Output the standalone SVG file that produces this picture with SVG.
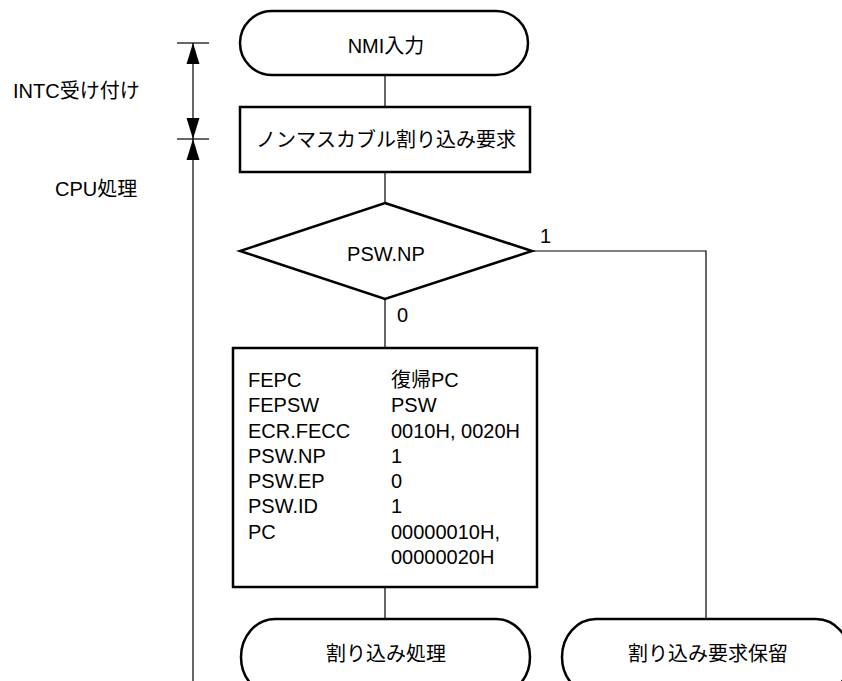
<svg xmlns="http://www.w3.org/2000/svg" width="842" height="681" viewBox="0 0 842 681">
<style>
.t{font-family:"Liberation Sans","Noto Sans CJK JP",sans-serif;font-size:20px;fill:#000}
.m{text-anchor:middle}
.box{fill:#fff;stroke:#000;stroke-width:2.5}
.ln{fill:none;stroke:#000;stroke-width:1.2}
</style>
<rect width="842" height="681" fill="#fff"/>
<g id="dimension">
<line class="ln" x1="193" y1="43" x2="193" y2="681"/>
<line class="ln" x1="177" y1="43" x2="209" y2="43"/>
<line class="ln" x1="177" y1="139" x2="209" y2="139"/>
<polygon points="193,43 186.5,64 199.5,64" fill="#000"/>
<polygon points="193,139 186.5,118 199.5,118" fill="#000"/>
<polygon points="193,139 186.5,160 199.5,160" fill="#000"/>
<text class="t" x="13" y="98">INTC受け付け</text>
<text class="t" x="55" y="196">CPU処理</text>
</g>
<g id="connectors">
<line class="ln" x1="385" y1="75" x2="385" y2="107"/>
<line class="ln" x1="385" y1="172" x2="385" y2="203"/>
<line class="ln" x1="385" y1="299" x2="385" y2="348"/>
<line class="ln" x1="385" y1="587" x2="385" y2="619"/>
<polyline class="ln" points="532,251 706,251 706,619"/>
<text class="t" x="540" y="243">1</text>
<text class="t" x="397" y="322">0</text>
</g>
<g id="nmi">
<rect class="box" x="240" y="11" width="288" height="64" rx="32" ry="32"/>
<text class="t m" x="386" y="53">NMI入力</text>
</g>
<g id="request">
<rect class="box" x="240" y="107" width="290" height="65"/>
<text class="t m" x="386" y="147">ノンマスカブル割り込み要求</text>
</g>
<g id="decision">
<polygon class="box" points="385,203 532,251 385,299 240,251"/>
<text class="t m" x="386" y="261">PSW.NP</text>
</g>
<g id="process">
<rect class="box" x="233" y="348" width="304" height="239"/>
<text class="t" x="248" y="387">FEPC</text>
<text class="t" x="248" y="412">FEPSW</text>
<text class="t" x="248" y="438">ECR.FECC</text>
<text class="t" x="248" y="463">PSW.NP</text>
<text class="t" x="248" y="488">PSW.EP</text>
<text class="t" x="248" y="513">PSW.ID</text>
<text class="t" x="248" y="539">PC</text>
<text class="t" x="391" y="387">復帰PC</text>
<text class="t" x="391" y="412">PSW</text>
<text class="t" x="391" y="438">0010H, 0020H</text>
<text class="t" x="391" y="463">1</text>
<text class="t" x="391" y="488">0</text>
<text class="t" x="391" y="513">1</text>
<text class="t" x="391" y="539">00000010H,</text>
<text class="t" x="391" y="564">00000020H</text>
</g>
<g id="handler">
<rect class="box" x="241" y="619" width="289" height="76" rx="34" ry="38"/>
<text class="t m" x="386" y="661">割り込み処理</text>
</g>
<g id="pending">
<rect class="box" x="562" y="619" width="288" height="76" rx="34" ry="38"/>
<text class="t m" x="708" y="661">割り込み要求保留</text>
</g>
</svg>
